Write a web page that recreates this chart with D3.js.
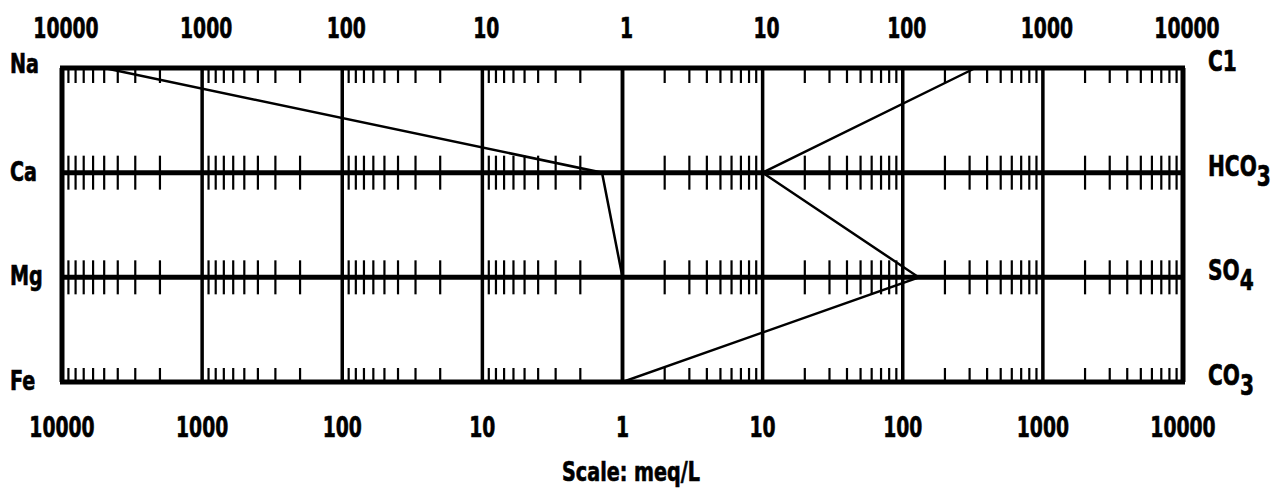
<!DOCTYPE html>
<html>
<head>
<meta charset="utf-8">
<script src="https://cdnjs.cloudflare.com/ajax/libs/d3/7.8.5/d3.min.js"></script>
<style>
  body { margin: 0; background: #fff; }
  text { font-family: "DejaVu Sans Condensed", "DejaVu Sans", sans-serif; font-weight: bold; fill: #000; stroke: #000; stroke-width: 0.6px; }
</style>
</head>
<body>
<svg id="chart" width="1276" height="488"></svg>
<script>
// stiff diagram values, meq/L
var cations = ["Na", "Ca", "Mg", "Fe"];
var cationValues = [5000, 1.4, 1, 1];
var anions = ["C1", "HCO3", "SO4", "CO3"];
var anionValues = [330, 10, 130, 1];
var leftTicks = ["10000", "1000", "100", "10", "1"];
var rightTicks = ["1", "10", "100", "1000", "10000"];

var svg = d3.select("#chart");
var x0 = 62, x1 = 1183, xc = (x0 + x1) / 2;

var left = d3.scaleLog().domain([1, 10000]).range([xc, x0]);
var right = d3.scaleLog().domain([1, 10000]).range([xc, x1]);
var y = d3.scalePoint().domain(d3.range(4)).range([68, 382]);

var minor = left.ticks().filter(function(v) { return Math.log10(v) % 1 !== 0; });
var major = left.ticks().filter(function(v) { return Math.log10(v) % 1 === 0; });

// narrow text: the scan uses a condensed face, so squeeze horizontally
function place(sel, fx, fy, sx) {
  sel.attr("transform", function(d, i) {
    return "translate(" + fx(d, i) + "," + fy(d, i) + ") scale(" + sx + ",1)";
  });
}

// vertical decade lines
var g = svg.append("g");
[left, right].forEach(function(s) {
  g.selectAll(null).data(major).enter().append("line")
    .attr("x1", function(d) { return s(d); })
    .attr("x2", function(d) { return s(d); })
    .attr("y1", y(0)).attr("y2", y(3))
    .attr("stroke", "#000")
    .attr("stroke-width", function(d) { return d == 10000 ? 5 : 3.5; });
});

// horizontal lines
g.selectAll(null).data(d3.range(4)).enter().append("line")
  .attr("x1", x0 - 2).attr("x2", x1 + 2)
  .attr("y1", function(d) { return y(d); })
  .attr("y2", function(d) { return y(d); })
  .attr("stroke", "#000").attr("stroke-width", 5);

// minor log ticks on each row
d3.range(4).forEach(function(r) {
  var top = r == 0 ? 0 : (r == 3 ? -14 : -17);
  var bot = r == 0 ? 15 : (r == 3 ? 0 : 17);
  [left, right].forEach(function(s) {
    g.selectAll(null).data(minor).enter().append("line")
      .attr("x1", function(d) { return s(d); })
      .attr("x2", function(d) { return s(d); })
      .attr("y1", y(r) + top).attr("y2", y(r) + bot)
      .attr("stroke", "#000").attr("stroke-width", 2.2);
  });
});

// data polygon
var pts = [];
cationValues.forEach(function(v, i) { pts.push([left(v), y(i)]); });
anionValues.slice().reverse().forEach(function(v, i) { pts.push([right(v), y(3 - i)]); });
svg.append("path")
  .attr("d", d3.line()(pts) + "Z")
  .attr("fill", "none").attr("stroke", "#000")
  .attr("stroke-width", 2.5).attr("stroke-linejoin", "miter");

// decade labels
var labels = leftTicks.map(function(t) { return { t: t, x: left(+t) }; })
  .concat(rightTicks.slice(1).map(function(t) { return { t: t, x: right(+t) }; }));
[38, 437].forEach(function(yy, k) {
  var t = svg.selectAll(null).data(labels).enter().append("text")
    .attr("text-anchor", "middle")
    .style("font-size", "29px")
    .text(function(d) { return d.t; });
  place(t, function(d) { return d.x + (k == 0 ? 4 : 0); }, function() { return yy; }, 0.72);
});

// row labels
var cl = svg.selectAll(null).data(cations).enter().append("text")
  .style("font-size", "26px")
  .text(function(d) { return d; });
place(cl, function() { return 10; }, function(d, i) { return y(i) + (i == 0 ? 5 : 8); }, 0.82);

var al = svg.selectAll(null).data(anions).enter().append("text")
  .style("font-size", "28px")
  .each(function(d) {
    var m = d.match(/^([A-Z]+)(\d?)$/);
    var t = d3.select(this);
    if (d == "C1" || !m) { t.text(d); return; }
    t.append("tspan").text(m[1]);
    t.append("tspan").attr("dy", 10).text(m[2]);
  });
place(al, function() { return 1208; }, function(d, i) { return y(i) + 3; }, 0.8);

var sl = svg.append("text")
  .attr("text-anchor", "middle")
  .style("font-size", "26px")
  .text("Scale: meq/L");
place(sl, function() { return 631; }, function() { return 481; }, 0.82);
</script>
</body>
</html>
